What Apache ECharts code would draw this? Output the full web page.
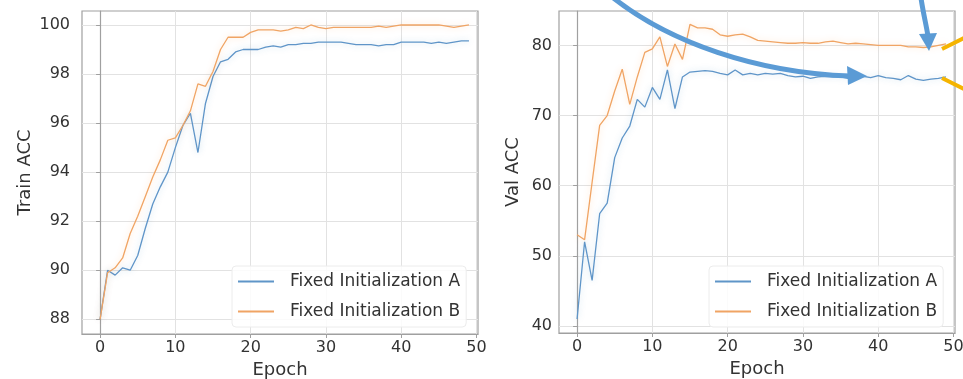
<!DOCTYPE html>
<html>
<head>
<meta charset="utf-8">
<script src="https://cdn.jsdelivr.net/npm/echarts@6/dist/echarts.min.js"></script>
<style>
html,body{margin:0;padding:0;background:#fff;}
#chart{width:963px;height:379px;}
</style>
</head>
<body>
<div id="chart"></div>
<script>
const epochs = [0,1,2,3,4,5,6,7,8,9,10,11,12,13,14,15,16,17,18,19,20,21,22,23,24,25,26,27,28,29,30,31,32,33,34,35,36,37,38,39,40,41,42,43,44,45,46,47,48,49];
const trainA = [88.0,90.0,89.8,90.1,90.0,90.6,91.7,92.7,93.4,94.0,95.0,95.9,96.4,94.8,96.8,97.9,98.5,98.6,98.9,99.0,99.0,99.0,99.1,99.15,99.1,99.2,99.2,99.25,99.25,99.3,99.3,99.3,99.3,99.25,99.2,99.2,99.2,99.15,99.2,99.2,99.3,99.3,99.3,99.3,99.25,99.3,99.25,99.3,99.35,99.35];
const trainB = [88.0,89.9,90.1,90.5,91.5,92.2,93.0,93.8,94.5,95.3,95.4,95.9,96.5,97.6,97.5,98.1,99.0,99.5,99.5,99.5,99.7,99.8,99.8,99.8,99.75,99.8,99.9,99.85,100.0,99.9,99.85,99.9,99.9,99.9,99.9,99.9,99.9,99.95,99.9,99.95,100.0,100.0,100.0,100.0,100.0,100.0,99.95,99.9,99.95,100.0];
const valA = [41.0,52.0,46.5,56.0,57.5,64.0,66.8,68.5,72.3,71.2,74.0,72.3,76.5,71.0,75.5,76.2,76.3,76.4,76.3,76.0,75.8,76.5,75.8,76.0,75.8,76.0,75.9,76.0,75.7,75.5,75.6,75.3,75.5,75.6,75.5,75.5,75.3,75.5,75.6,75.4,75.7,75.4,75.3,75.1,75.7,75.2,75.0,75.2,75.3,75.5];
const valB = [53.0,52.3,60.5,68.6,70.0,73.5,76.6,71.6,75.5,79.0,79.5,81.2,77.0,80.2,78.0,83.0,82.5,82.5,82.3,81.5,81.3,81.5,81.6,81.2,80.7,80.6,80.5,80.4,80.3,80.3,80.4,80.3,80.3,80.5,80.6,80.4,80.2,80.3,80.2,80.1,80.0,80.0,80.0,80.0,79.8,79.8,79.7,79.8,80.0,80.2];
const xTicks = [0,10,20,30,40,50];
const trainTicks = [88,90,92,94,96,98,100];
const valTicks = [40,50,60,70,80];
const nameA = 'Fixed Initialization A';
const nameB = 'Fixed Initialization B';

const FONT = 'DejaVu Sans';
const TXT = '#333333';
const BLUE = '#5f95c8';
const ORANGE = '#f0a464';

function pairs(vals){ return epochs.map((e,i)=>[e, vals[i]]); }

function xAxis(gi){
  return {
    type:'value', gridIndex:gi, min:-2.4, max:50.2,
    name:'Epoch', nameLocation:'middle', nameGap:25,
    nameTextStyle:{fontFamily:FONT,fontSize:18,color:TXT},
    axisLine:{show:true,lineStyle:{color:'#a0a0a0',width:1.2}},
    axisTick:{show:true,inside:false,length:4,customValues:xTicks,lineStyle:{color:'#a0a0a0'}},
    axisLabel:{customValues:xTicks,margin:6,fontFamily:FONT,fontSize:16,color:TXT},
    splitLine:{show:true,lineStyle:{color:'#e2e2e2',width:1}}
  };
}
function yAxis(gi,min,max,ticks,name,gap,lmargin){
  return {
    type:'value', gridIndex:gi, min:min, max:max,
    name:name, nameLocation:'middle', nameGap:gap, nameRotate:90,
    nameTextStyle:{fontFamily:FONT,fontSize:18,color:TXT},
    axisLine:{show:true,lineStyle:{color:'#a0a0a0',width:1.2}},
    axisTick:{show:true,inside:false,length:4,customValues:ticks,lineStyle:{color:'#a0a0a0'}},
    axisLabel:{customValues:ticks,margin:lmargin,fontFamily:FONT,fontSize:16,color:TXT},
    splitLine:{show:true,lineStyle:{color:'#e2e2e2',width:1}}
  };
}
function line(name,data,xi,yi,color,shadow){
  return {
    type:'line', name:name, xAxisIndex:xi, yAxisIndex:yi, data:pairs(data),
    symbol:'none', smooth:false, animation:false,
    lineStyle:{color:color,width:1.3,shadowColor:shadow,shadowBlur:6},
    itemStyle:{color:color}, z:3
  };
}
const lineIcon = 'path://M0,0H40V2H0Z';
function legend(left){
  return {
    left:left, top:266, orient:'vertical',
    data:[{name:nameA,icon:lineIcon},{name:nameB,icon:lineIcon}],
    itemWidth:36, itemHeight:14, itemGap:13,
    backgroundColor:'rgba(255,255,255,0.85)', borderColor:'#ececec', borderWidth:1, borderRadius:4,
    padding:[7,6,7,6],
    textStyle:{fontFamily:FONT,fontSize:17,color:TXT,padding:[0,0,0,11]},
    selectedMode:false
  };
}

const arrowBlue = '#5b9bd5';
const gold = '#f5b400';

const option = {
  animation:false,
  backgroundColor:'#ffffff',
  grid:[
    {left:82,top:11,width:396,height:323,show:true,borderColor:'#a0a0a0',borderWidth:1.2,outerBoundsMode:'none'},
    {left:559,top:11,width:396,height:322,show:true,borderColor:'#a0a0a0',borderWidth:1.2,outerBoundsMode:'none'}
  ],
  xAxis:[xAxis(0),xAxis(1)],
  yAxis:[
    yAxis(0,87.4,100.57,trainTicks,'Train ACC',48,12),
    yAxis(1,39,84.9,valTicks,'Val ACC',37,7)
  ],
  legend:[legend(232),legend(709)],
  series:[
    line(nameA,trainA,0,0,BLUE,'rgba(31,119,180,0.25)'),
    line(nameB,trainB,0,0,ORANGE,'rgba(255,127,14,0.25)'),
    line(nameA,valA,1,1,BLUE,'rgba(31,119,180,0.25)'),
    line(nameB,valB,1,1,ORANGE,'rgba(255,127,14,0.25)')
  ],
  graphic:[
    {type:'bezierCurve',z:100,shape:{x1:606,y1:-8,x2:850,y2:76,cpx1:668,cpy1:44,cpx2:760,cpy2:73},
      style:{stroke:arrowBlue,lineWidth:5,fill:null}},
    {type:'polygon',z:100,shape:{points:[[867,76],[847,66],[848,85]]},style:{fill:arrowBlue}},
    {type:'bezierCurve',z:100,shape:{x1:921,y1:-2,x2:928,y2:36,cpx1:923,cpy1:12,cpx2:926,cpy2:24},
      style:{stroke:arrowBlue,lineWidth:5,fill:null}},
    {type:'polygon',z:100,shape:{points:[[929,51],[919,34],[937,33]]},style:{fill:arrowBlue}},
    {type:'line',z:100,shape:{x1:942,y1:49,x2:966,y2:37},style:{stroke:gold,lineWidth:4}},
    {type:'line',z:100,shape:{x1:942,y1:78,x2:966,y2:90},style:{stroke:gold,lineWidth:4}}
  ]
};

const chart = echarts.init(document.getElementById('chart'),null,{renderer:'canvas'});
chart.setOption(option);
</script>
</body>
</html>
